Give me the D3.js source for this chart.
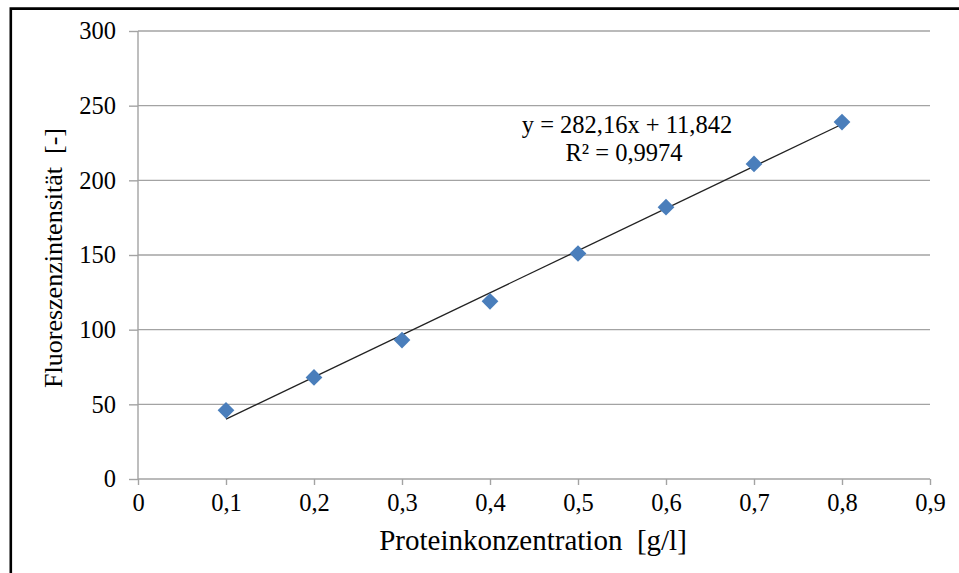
<!DOCTYPE html>
<html>
<head>
<meta charset="utf-8">
<script src="https://cdn.jsdelivr.net/npm/d3@7"></script>
<style>
  html, body { margin: 0; padding: 0; background: #fff; }
  svg { display: block; }
</style>
</head>
<body>
<svg id="chart" width="959" height="573"></svg>
<script>
// Calibration: protein concentration vs. fluorescence intensity
const concentrations = [0.1, 0.2, 0.3, 0.4, 0.5, 0.6, 0.7, 0.8];
const intensities = [46, 68, 93, 119, 151, 182, 211, 239];
const xTicks = [0, 0.1, 0.2, 0.3, 0.4, 0.5, 0.6, 0.7, 0.8, 0.9];
const yTicks = [0, 50, 100, 150, 200, 250, 300];
const slope = 282.16;
const intercept = 11.842;
const rSquared = "0,9974";

const FONT = '"Liberation Serif", "Times New Roman", serif';
const GRID = "#a3a3a3";

const svg = d3.select("#chart");
const plot = { left: 138, right: 930, top: 31, bottom: 479 };

const x = d3.scaleLinear().domain([0, 0.9]).range([plot.left, plot.right]);
const y = d3.scaleLinear().domain([0, 300]).range([plot.bottom, plot.top]);
const comma = v => String(v).replace(".", ",");

// outer frame (open on the right and bottom)
svg.append("path")
  .attr("d", "M10.8,573 V8.6 H959")
  .attr("fill", "none").attr("stroke", "#000").attr("stroke-width", 2.6);

// horizontal gridlines
svg.append("g").selectAll("line").data(yTicks.filter(d => d > 0)).join("line")
  .attr("x1", plot.left).attr("x2", plot.right)
  .attr("y1", d => y(d)).attr("y2", d => y(d))
  .attr("stroke", GRID).attr("stroke-width", 1.4);

// y axis
const yAxis = svg.append("g").attr("transform", `translate(${plot.left},0)`)
  .call(d3.axisLeft(y).tickValues(yTicks).tickSize(9).tickPadding(13).tickFormat(d => d));
yAxis.select(".domain").attr("stroke", GRID).attr("stroke-width", 1.4).attr("d", `M0,${plot.top}V${plot.bottom}`);
yAxis.selectAll(".tick line").attr("stroke", GRID).attr("stroke-width", 1.4);
yAxis.selectAll(".tick text").style("font-family", FONT).style("font-size", "24.5px").attr("fill", "#000");

// x axis
const xAxis = svg.append("g").attr("transform", `translate(0,${plot.bottom})`)
  .call(d3.axisBottom(x).tickValues(xTicks).tickSize(6).tickPadding(9).tickFormat(comma));
xAxis.select(".domain").attr("stroke", GRID).attr("stroke-width", 1.4).attr("d", `M${plot.left},0H${plot.right}`);
xAxis.selectAll(".tick line").attr("stroke", GRID).attr("stroke-width", 1.4);
xAxis.selectAll(".tick text").style("font-family", FONT).style("font-size", "24.5px").attr("fill", "#000");

// linear trendline over the data range
const xMin = d3.min(concentrations), xMax = d3.max(concentrations);
svg.append("line")
  .attr("x1", x(xMin)).attr("y1", y(slope * xMin + intercept))
  .attr("x2", x(xMax)).attr("y2", y(slope * xMax + intercept))
  .attr("stroke", "#222").attr("stroke-width", 1.3);

// data markers (diamonds)
const diamond = d3.symbol().type(d3.symbolSquare).size(140);
svg.append("g").selectAll("path")
  .data(concentrations.map((c, i) => [c, intensities[i]]))
  .join("path")
  .attr("d", diamond)
  .attr("transform", d => `translate(${x(d[0])},${y(d[1])}) rotate(45)`)
  .attr("fill", "#4a7ebb");

// trendline equation, two separate lines
const eqStyle = sel => sel.attr("text-anchor", "middle")
  .style("font-family", FONT).style("font-size", "24.5px").attr("fill", "#000");
svg.append("text").call(eqStyle).attr("x", 627).attr("y", 133)
  .text(`y = ${comma(slope)}x + ${comma(intercept)}`);
svg.append("text").call(eqStyle).attr("x", 624).attr("y", 161)
  .text(`R² = ${rSquared}`);

// axis titles
svg.append("text")
  .attr("x", 533).attr("y", 550)
  .attr("text-anchor", "middle")
  .style("font-family", FONT).style("font-size", "29px").style("white-space", "pre")
  .attr("fill", "#000")
  .text("Proteinkonzentration  [g/l]");

svg.append("text")
  .attr("transform", `translate(62,258) rotate(-90)`)
  .attr("text-anchor", "middle")
  .style("font-family", FONT).style("font-size", "26px").style("white-space", "pre")
  .attr("fill", "#000")
  .text("Fluoreszenzintensität  [-]");
</script>
</body>
</html>
